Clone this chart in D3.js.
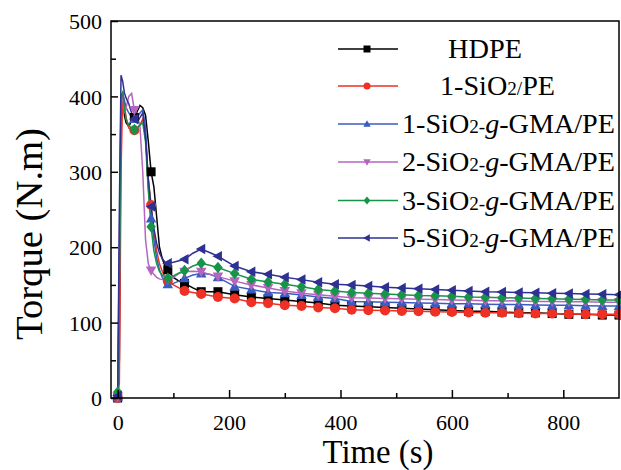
<!DOCTYPE html>
<html><head><meta charset="utf-8">
<script src="https://cdn.jsdelivr.net/npm/d3@7"></script>
<style>body{margin:0;background:#fff}svg{display:block}svg text{font-family:"Liberation Serif","Times New Roman","Nimbus Roman","DejaVu Serif","Noto Serif",serif !important}</style>
</head><body>
<svg id="c" width="621" height="470"></svg>
<script>
const times = [0,3,6,9,12,15,20,25,30,35,40,45,50,55,60,65,70,75,80,85,90,100,110,120,135,150,165,180,210,240,270,300,330,360,390,420,450,480,510,540,570,600,630,660,690,720,750,780,810,840,870,900];
const hdpe = [0,50,395,400,375,365,360,368,372,380,388,385,375,340,300,280,240,200,185,175,170,160,155,152,146,141,141,141,137,134,132,130,128,126,123,122,121,120,119,118,117,116,115,115,114,113,113,112,111,111,110,110];
const sio2pe = [0,20,300,405,390,372,358,355,355,358,362,370,345,290,256,220,195,178,168,160,155,150,146,142,140,138,136,134,132,127,125.6,123,122,120,119,117,116.5,116,115.5,115,114.5,114,113.5,113,113,112.5,112,112,111.5,111,111,111];
const gma1 = [2,150,400,405,395,385,378,372,370,372,378,382,360,280,238,210,185,170,160,155,151,152,155,158.7,163,165,164,160,148,144,140,139,136.6,134,132,128,127.5,127,126.5,126,125.5,125,125,124.5,124,124,123.5,123,123,122.5,122,122];
const gma2 = [2,200,400,395,378,385,400,404,382,375,360,300,210,178,169,164,160,158,157,157,157,160,165,167.5,168,167.5,164,161,155,150,146,142,139,137,135,133,132.5,132,131.5,131,130.5,130,129.5,129,129,128.5,128,128,127.5,127.5,127,127];
const gma3 = [8,150,400,405,385,370,362,357,356,358,362,365,340,275,227,195,178,168,163,160,158.7,162,166,169,175,178.6,176,173,165,157.4,154,151,147.6,144,142,140,139,138,137,136,135.5,135,134,133.5,133,132.5,132,131.5,131,130.5,130,130];
const gma5 = [3,250,428,420,405,398,390,378,370,365,372,378,345,290,254,225,205,192,185,180,178.6,180,182,184,192,197.6,193,188,175,167.5,164,160,157,153.5,151,150,148.5,147,146,145,144,143,142,141,140.5,140,139.5,139,138.5,138,137.5,137];
const xTicks = [0,200,400,600,800];
const yTicks = [0,100,200,300,400,500];
const seriesNames = ["HDPE","1-SiO2/PE","1-SiO2-g-GMA/PE","2-SiO2-g-GMA/PE","3-SiO2-g-GMA/PE","5-SiO2-g-GMA/PE"];
const seriesValues = [hdpe, sio2pe, gma1, gma2, gma3, gma5];
const seriesColors = ["#000000","#ee3124","#3a5cc0","#b565c0","#169447","#2e3192"];
const seriesMarkers = ["square","circle","triangleUp","triangleDown","diamond","triangleLeft"];

const svg = d3.select("#c");
const x = d3.scaleLinear().domain([-12, 900]).range([111, 619]);
const y = d3.scaleLinear().domain([0, 500]).range([398, 21]);

function markerPath(type, s) {
  const h = s/2;
  switch(type){
    case "square": return `M${-h},${-h}H${h}V${h}H${-h}Z`;
    case "circle": { const p = d3.path(); p.arc(0,0,h,0,2*Math.PI); return p.toString(); }
    case "triangleUp": return `M0,${-h*1.1}L${h*1.05},${h*0.8}L${-h*1.05},${h*0.8}Z`;
    case "triangleDown": return `M0,${h*1.1}L${h*1.05},${-h*0.8}L${-h*1.05},${-h*0.8}Z`;
    case "triangleLeft": return `M${-h*1.1},0L${h*0.8},${-h*1.05}L${h*0.8},${h*1.05}Z`;
    case "diamond": return `M0,${-h*1.15}L${h*0.95},0L0,${h*1.15}L${-h*0.95},0Z`;
  }
}
const markerSize = {square:9, circle:10, triangleUp:10, triangleDown:10, triangleLeft:10, diamond:10};

function fit(sel, target) {
  const node = sel.node();
  const fs = parseFloat(sel.attr("font-size"));
  const w = node.getComputedTextLength();
  if (w > 0) sel.attr("font-size", (fs * target / w).toFixed(2));
}

const line = d3.line().x(d=>x(d[0])).y(d=>y(d[1]));

seriesValues.forEach((vals, i) => {
  const data = times.map((t, j) => [t, vals[j]]);
  svg.append("path").datum(data).attr("d", line)
    .attr("fill","none").attr("stroke",seriesColors[i]).attr("stroke-width",1.5);
});
seriesValues.forEach((vals, i) => {
  const data = times.map((t, j) => [t, vals[j]]).filter(d => d[0] % 30 === 0);
  svg.append("g").selectAll("path").data(data).join("path")
    .attr("transform", d => `translate(${x(d[0])},${y(d[1])})`)
    .attr("d", markerPath(seriesMarkers[i], markerSize[seriesMarkers[i]]))
    .attr("fill", seriesColors[i]);
});

svg.append("rect").attr("x",111).attr("y",21).attr("width",508).attr("height",377)
  .attr("fill","none").attr("stroke","#000").attr("stroke-width",1.5);

const xAxis = svg.append("g").attr("transform","translate(0,398)")
  .call(d3.axisBottom(x).tickValues(xTicks).tickSize(-8).tickPadding(16).tickFormat(d3.format("d")));
const xMinor = svg.append("g").attr("transform","translate(0,398)")
  .call(d3.axisBottom(x).tickValues([100,300,500,700]).tickSize(-5).tickFormat(""));
const yAxis = svg.append("g").attr("transform","translate(111,0)")
  .call(d3.axisLeft(y).tickValues(yTicks).tickSize(-7).tickPadding(9).tickFormat(d3.format("d")));
const yMinor = svg.append("g").attr("transform","translate(111,0)")
  .call(d3.axisLeft(y).tickValues([50,150,250,350,450]).tickSize(-5).tickFormat(""));
[xAxis,xMinor,yAxis,yMinor].forEach(g => {
  g.attr("font-family", null);
  g.select(".domain").remove();
  g.selectAll("line").attr("stroke","#000").attr("stroke-width",1.5);
  g.selectAll("text").attr("font-size",22).attr("fill","#000");
});
xAxis.selectAll("text").attr("dy","0.71em");
yAxis.selectAll("text").attr("dy","0.35em");
// size tick labels so "500" spans ~33px
{
  const t500 = yAxis.selectAll("text").filter(d => d === 500);
  const w = t500.node().getComputedTextLength();
  const fs = (22 * 33 / w).toFixed(2);
  xAxis.selectAll("text").attr("font-size", fs);
  yAxis.selectAll("text").attr("font-size", fs);
}

const xt = svg.append("text").attr("x",378).attr("y",463).attr("text-anchor","middle")
  .attr("font-size",30).text("Time (s)");
fit(xt, 111);
const yt = svg.append("text").attr("transform","translate(42,234) rotate(-90)").attr("text-anchor","middle")
  .attr("font-size",31).text("Torque (N.m)");
fit(yt, 212);

const legRowY = [49, 86, 124, 162, 200.5, 238];
const legTextX = [448, 440, 402, 402, 402, 402];
const legTextW = [74, 115, 213, 213, 213, 213];
const leg = svg.append("g");
seriesNames.forEach((name, i) => {
  const yy = legRowY[i];
  leg.append("line").attr("x1",338).attr("x2",398).attr("y1",yy).attr("y2",yy)
    .attr("stroke",seriesColors[i]).attr("stroke-width",1.5);
  leg.append("path").attr("transform",`translate(367,${yy})`)
    .attr("d", markerPath(seriesMarkers[i], 7)).attr("fill",seriesColors[i]);
  const t = leg.append("text").attr("x",legTextX[i]).attr("y",yy+9).attr("font-size",26).attr("fill","#000");
  if (name === "HDPE") { t.text("HDPE"); }
  else if (name === "1-SiO2/PE") {
    t.append("tspan").text("1-SiO");
    t.append("tspan").attr("font-size","0.68em").text("2/");
    t.append("tspan").text("PE");
  } else {
    t.append("tspan").text(name.slice(0,5));
    t.append("tspan").attr("font-size","0.68em").text("2-");
    t.append("tspan").attr("font-style","italic").text("g");
    t.append("tspan").text("-GMA/PE");
  }
  fit(t, legTextW[i]);
});
</script>
</body></html>
